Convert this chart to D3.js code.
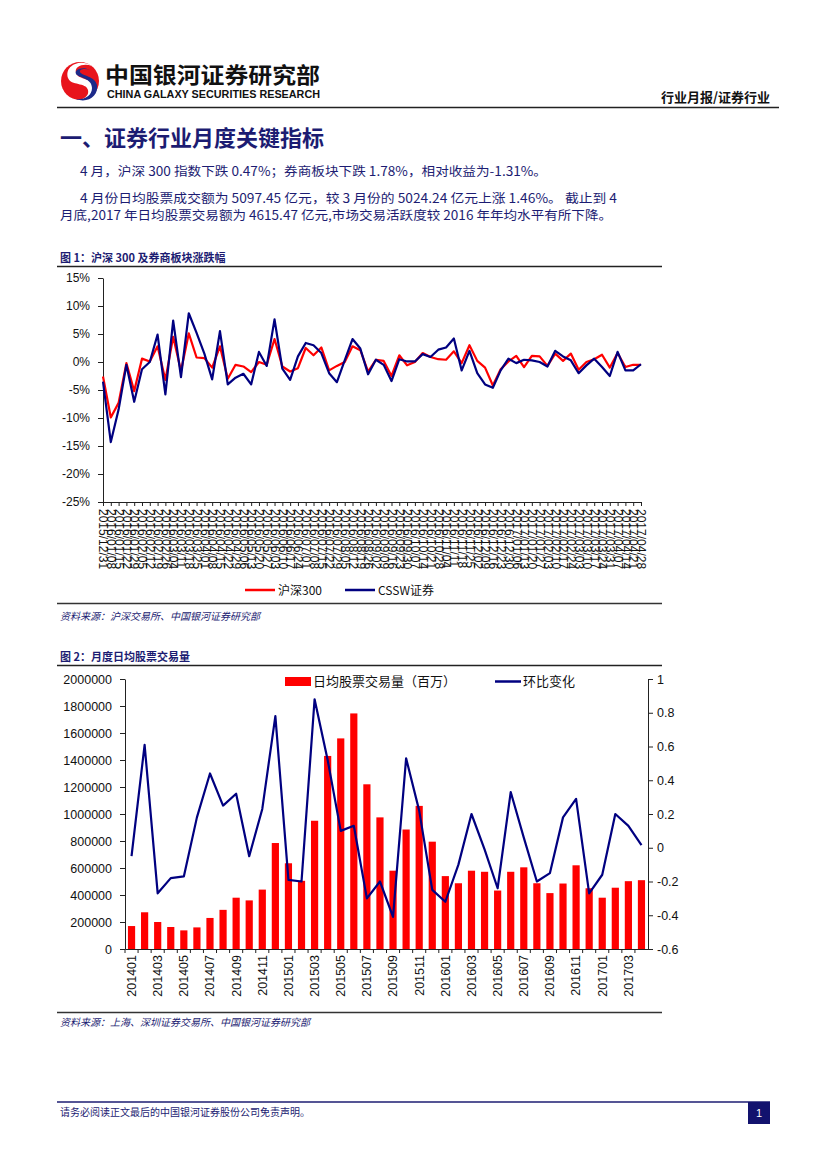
<!DOCTYPE html>
<html><head><meta charset="utf-8">
<script src="https://cdn.jsdelivr.net/npm/d3@7"></script>
<style>
body{margin:0;background:#fff;}
svg{display:block;}
</style></head><body>
<svg id="page" width="827" height="1169"></svg>
<script>
// ---------- DATA ----------
const weekLabels = [
"2015/12/31","2016/01/08","2016/01/15","2016/01/22","2016/01/29","2016/02/05","2016/02/12","2016/02/19","2016/02/26",
"2016/03/04","2016/03/11","2016/03/18","2016/03/25","2016/04/01","2016/04/08","2016/04/15","2016/04/22","2016/04/29",
"2016/05/06","2016/05/13","2016/05/20","2016/05/27","2016/06/03","2016/06/10","2016/06/17","2016/06/24","2016/07/01",
"2016/07/08","2016/07/15","2016/07/22","2016/07/29","2016/08/05","2016/08/12","2016/08/19","2016/08/26","2016/09/02",
"2016/09/09","2016/09/16","2016/09/23","2016/09/30","2016/10/07","2016/10/14","2016/10/21","2016/10/28","2016/11/04",
"2016/11/11","2016/11/18","2016/11/25","2016/12/02","2016/12/09","2016/12/16","2016/12/23","2016/12/30","2017/01/06",
"2017/01/13","2017/01/20","2017/01/27","2017/02/03","2017/02/10","2017/02/17","2017/02/24","2017/03/03","2017/03/10",
"2017/03/17","2017/03/24","2017/03/31","2017/04/07","2017/04/14","2017/04/21","2017/04/28"];
const hs300 = [-2.6,-9.9,-7.3,-0.2,-5.2,0.6,0.1,2.8,-3.2,4.5,-1.6,5.1,0.8,0.7,-1.0,2.8,-3.0,-0.5,-0.8,-1.8,
0.0,-0.5,4.1,-0.8,-1.7,-1.1,2.5,1.2,2.6,-1.5,-0.7,0.0,2.8,2.1,-1.7,0.4,0.2,-2.5,1.2,-0.6,
0.0,1.6,0.9,0.5,0.4,1.9,-0.2,3.0,0.2,-1.0,-4.2,-1.3,0.1,1.1,-0.9,1.1,1.0,-0.7,1.5,0.2,
1.5,-1.4,0.0,0.5,1.3,-1.0,1.6,-0.9,-0.5,-0.5];
const cssw = [-3.5,-14.3,-8.5,-0.5,-7.1,-1.3,0.0,4.9,-5.8,7.4,-2.7,8.7,5.2,1.5,-3.1,5.5,-4.0,-2.8,-2.1,-4.0,
1.8,-0.7,7.6,-1.2,-3.2,1.0,3.4,3.0,1.6,-2.0,-3.6,0.3,4.1,2.4,-2.2,0.4,-0.5,-3.4,0.5,0.1,
0.1,1.4,0.9,2.2,2.6,4.2,-1.5,2.0,-2.0,-4.0,-4.6,-1.5,0.6,-0.2,0.4,0.3,0.0,-0.8,2.0,1.0,
0.3,-2.0,-0.6,0.6,-0.9,-2.5,1.8,-1.5,-1.5,-0.4];
const pctTicks = [15,10,5,0,-5,-10,-15,-20,-25];

const months = ["201401","201402","201403","201404","201405","201406","201407","201408","201409","201410","201411","201412",
"201501","201502","201503","201504","201505","201506","201507","201508","201509","201510","201511","201512",
"201601","201602","201603","201604","201605","201606","201607","201608","201609","201610","201611","201612",
"201701","201702","201703","201704"];
const volume = [170000,272000,200000,163000,138000,160000,230000,290000,380000,360000,440000,785000,
635000,505000,950000,1430000,1560000,1745000,1220000,975000,580000,885000,1060000,795000,
540000,487000,580000,572000,433000,572000,605000,487000,414000,485000,620000,450000,
380000,454000,502424,509745];
const mom = [-0.05,0.61,-0.27,-0.18,-0.17,0.18,0.44,0.25,0.32,-0.05,0.23,0.78,
-0.19,-0.2,0.88,0.52,0.1,0.13,-0.3,-0.2,-0.41,0.53,0.22,-0.25,
-0.32,-0.1,0.2,-0.01,-0.24,0.33,0.06,-0.2,-0.15,0.18,0.29,-0.27,
-0.16,0.2,0.13,0.015];
const volTicks = [0,200000,400000,600000,800000,1000000,1200000,1400000,1600000,1800000,2000000];
const momTicks = [1,0.8,0.6,0.4,0.2,0,-0.2,-0.4,-0.6];

// ---------- STYLE ----------
const NAVY = "#1c1c72";
const LINE_NAVY = "#000080";
const RED = "#ff0000";
const CJK = "'Noto Sans CJK SC','Noto Sans',sans-serif";
const LAT = "'Liberation Sans',Arial,sans-serif";

const svg = d3.select("#page");

// ---------- HEADER ----------
const logo = svg.append("g");
logo.append("circle").attr("cx",80).attr("cy",81).attr("r",19).attr("fill","#e8141c");
logo.append("path").attr("d","M92,66 C80,58 64,66 68,78 C71,86 86,82 88,90 C90,98 78,104 66,97 C78,108 98,100 96,88 C94,78 78,80 76,73 C74,66 84,63 92,66 Z").attr("fill","#fff");
logo.append("path").attr("d","M90,70 C82,66 74,70 76,74 C79,78 92,78 92,88 C92,96 84,100 76,99 C88,104 99,95 97,85 C95,76 82,76 80,72 C79,69 85,68 90,70 Z").attr("fill","#1d2a8a");

svg.append("text").attr("x",105).attr("y",83).attr("font-family",CJK).attr("font-weight","bold")
  .attr("font-size",22).attr("fill","#111").attr("textLength",215).attr("lengthAdjust","spacingAndGlyphs").text("中国银河证券研究部");
svg.append("text").attr("x",107).attr("y",98).attr("font-family",LAT).attr("font-weight","bold")
  .attr("font-size",10).attr("fill","#111").attr("textLength",213).attr("lengthAdjust","spacingAndGlyphs").text("CHINA GALAXY SECURITIES RESEARCH");
svg.append("text").attr("x",770).attr("y",102).attr("text-anchor","end").attr("font-family",CJK).attr("font-weight","bold")
  .attr("font-size",13).attr("fill","#111").text("行业月报/证券行业");
svg.append("line").attr("x1",57).attr("x2",779).attr("y1",107.5).attr("y2",107.5).attr("stroke","#222").attr("stroke-width",1.5);

// ---------- TEXT ----------
svg.append("text").attr("x",60).attr("y",146).attr("font-family",CJK).attr("font-weight","bold")
  .attr("font-size",22).attr("fill",NAVY).text("一、证券行业月度关键指标");
const paras = [
  {x:80,y:176,w:467,t:"4 月，沪深 300 指数下跌 0.47%；券商板块下跌 1.78%，相对收益为-1.31%。"},
  {x:80,y:203,w:537,t:"4 月份日均股票成交额为 5097.45 亿元，较 3 月份的 5024.24 亿元上涨 1.46%。 截止到 4"},
  {x:60,y:220,w:552,t:"月底,2017 年日均股票交易额为 4615.47 亿元,市场交易活跃度较 2016 年年均水平有所下降。"}
];
paras.forEach(p=>{
  svg.append("text").attr("x",p.x).attr("y",p.y).attr("font-family",CJK).attr("font-size",12.5)
   .attr("fill",NAVY).attr("textLength",p.w).attr("lengthAdjust","spacingAndGlyphs").text(p.t);
});

// ---------- CHART 1 ----------
svg.append("text").attr("x",60).attr("y",262).attr("font-family",CJK).attr("font-weight","bold")
  .attr("font-size",11).attr("fill",NAVY).text("图 1：沪深 300 及券商板块涨跌幅");
svg.append("line").attr("x1",57).attr("x2",662).attr("y1",266.5).attr("y2",266.5).attr("stroke","#222").attr("stroke-width",1.5);

const c1 = {l:103, r:641, t:278, b:502};
const x1 = d3.scalePoint().domain(weekLabels).range([c1.l, c1.r]);
const y1 = d3.scaleLinear().domain([-25,15]).range([c1.b, c1.t]);

const ya1 = svg.append("g").attr("transform",`translate(${c1.l},0)`)
  .call(d3.axisLeft(y1).tickValues(pctTicks).tickFormat(d=>d+"%").tickSize(5).tickPadding(8).tickSizeOuter(0));
ya1.selectAll("text").attr("font-family",LAT).attr("font-size",12).attr("fill","#111");
ya1.selectAll("line,path").attr("stroke","#222");

const xa1 = svg.append("g").attr("transform",`translate(0,${c1.b})`)
  .call(d3.axisBottom(x1).tickSize(4).tickSizeOuter(0));
xa1.selectAll("line,path").attr("stroke","#222");
xa1.selectAll("text").attr("font-family",LAT).attr("font-size",12).attr("fill","#111")
  .attr("transform","rotate(90)").attr("text-anchor","start").attr("x",7).attr("y",0).attr("dy","0.35em");

const line1 = d3.line().x((d,i)=>x1(weekLabels[i])).y(d=>y1(d));
svg.append("path").datum(hs300).attr("d",line1).attr("fill","none").attr("stroke",RED).attr("stroke-width",2.2).attr("stroke-linejoin","round");
svg.append("path").datum(cssw).attr("d",line1).attr("fill","none").attr("stroke",LINE_NAVY).attr("stroke-width",2.2).attr("stroke-linejoin","round");

// legend 1
const lg1 = [{x:245,c:RED,t:"沪深300"},{x:345,c:LINE_NAVY,t:"CSSW证券"}];
lg1.forEach(d=>{
  svg.append("line").attr("x1",d.x).attr("x2",d.x+30).attr("y1",590).attr("y2",590).attr("stroke",d.c).attr("stroke-width",2.5);
  svg.append("text").attr("x",d.x+33).attr("y",594.5).attr("font-family",CJK).attr("font-size",12).attr("fill","#111").text(d.t);
});
svg.append("line").attr("x1",57).attr("x2",662).attr("y1",603.5).attr("y2",603.5).attr("stroke","#333").attr("stroke-width",1.5);
svg.append("text").attr("x",60).attr("y",620).attr("font-family",CJK).attr("font-style","italic")
  .attr("font-size",10).attr("fill",NAVY).text("资料来源：沪深交易所、中国银河证券研究部");

// ---------- CHART 2 ----------
svg.append("text").attr("x",60).attr("y",661).attr("font-family",CJK).attr("font-weight","bold")
  .attr("font-size",11).attr("fill",NAVY).text("图 2：月度日均股票交易量");
svg.append("line").attr("x1",57).attr("x2",662).attr("y1",665.5).attr("y2",665.5).attr("stroke","#222").attr("stroke-width",1.5);

const c2 = {l:125, r:648, t:679, b:949};
const x2 = d3.scaleBand().domain(months).range([c2.l,c2.r]).paddingInner(0.45).paddingOuter(0.225);
const yL = d3.scaleLinear().domain([0,2000000]).range([c2.b,c2.t]);
const yR = d3.scaleLinear().domain([-0.6,1]).range([c2.b,c2.t]);

svg.append("g").selectAll("rect").data(volume).join("rect")
  .attr("x",(d,i)=>x2(months[i])).attr("width",x2.bandwidth())
  .attr("y",d=>yL(d)).attr("height",d=>c2.b-yL(d)).attr("fill",RED);

const yaL = svg.append("g").attr("transform",`translate(${c2.l},0)`)
  .call(d3.axisLeft(yL).tickValues(volTicks).tickFormat(d3.format("d")).tickSize(5).tickPadding(8).tickSizeOuter(0));
yaL.selectAll("text").attr("font-family",LAT).attr("font-size",12.5).attr("fill","#111");
yaL.selectAll("line,path").attr("stroke","#222");

const yaR = svg.append("g").attr("transform",`translate(${c2.r},0)`)
  .call(d3.axisRight(yR).tickValues(momTicks).tickFormat(d=>String(d)).tickSize(5).tickPadding(4).tickSizeOuter(0));
yaR.selectAll("text").attr("font-family",LAT).attr("font-size",12.5).attr("fill","#111");
yaR.selectAll("line,path").attr("stroke","#222");

const xa2 = svg.append("g").attr("transform",`translate(0,${c2.b})`)
  .call(d3.axisBottom(x2).tickSize(0).tickSizeOuter(0).tickFormat((d,i)=> i%2===0 ? d : ""));
xa2.selectAll("path").attr("stroke","#222");
xa2.selectAll("text").attr("font-family",LAT).attr("font-size",12.5).attr("fill","#111")
  .attr("transform","rotate(-90)").attr("text-anchor","end").attr("x",-6).attr("y",0).attr("dy","0.35em");
// ticks between categories
svg.append("g").selectAll("line").data(months).join("line")
  .attr("x1",(d)=>x2(d)-x2.step()*x2.paddingInner()/2).attr("x2",(d)=>x2(d)-x2.step()*x2.paddingInner()/2)
  .attr("y1",c2.b).attr("y2",c2.b+4).attr("stroke","#222");

const line2 = d3.line().x((d,i)=>x2(months[i])+x2.bandwidth()/2).y(d=>yR(d));
svg.append("path").datum(mom).attr("d",line2).attr("fill","none").attr("stroke",LINE_NAVY).attr("stroke-width",2.2).attr("stroke-linejoin","round");

// legend 2
svg.append("rect").attr("x",285).attr("y",677).attr("width",26).attr("height",9).attr("fill",RED);
svg.append("text").attr("x",313).attr("y",686).attr("font-family",CJK).attr("font-size",13).attr("fill","#111").text("日均股票交易量（百万）");
svg.append("line").attr("x1",495).attr("x2",521).attr("y1",681.5).attr("y2",681.5).attr("stroke",LINE_NAVY).attr("stroke-width",2.5);
svg.append("text").attr("x",523).attr("y",686).attr("font-family",CJK).attr("font-size",13).attr("fill","#111").text("环比变化");

svg.append("line").attr("x1",57).attr("x2",662).attr("y1",1012.5).attr("y2",1012.5).attr("stroke","#333").attr("stroke-width",1.5);
svg.append("text").attr("x",60).attr("y",1026).attr("font-family",CJK).attr("font-style","italic")
  .attr("font-size",10).attr("fill",NAVY).text("资料来源：上海、深圳证券交易所、中国银河证券研究部");

// ---------- FOOTER ----------
svg.append("line").attr("x1",57).attr("x2",770).attr("y1",1102).attr("y2",1102).attr("stroke",NAVY).attr("stroke-width",1.5);
svg.append("text").attr("x",60).attr("y",1116).attr("font-family",CJK).attr("font-size",10).attr("fill",NAVY)
  .text("请务必阅读正文最后的中国银河证券股份公司免责声明。");
svg.append("rect").attr("x",748).attr("y",1102).attr("width",22).attr("height",22).attr("fill","#12126e");
svg.append("text").attr("x",759).attr("y",1117).attr("text-anchor","middle").attr("font-family",LAT).attr("font-size",11).attr("fill","#fff").text("1");
</script>
</body></html>
